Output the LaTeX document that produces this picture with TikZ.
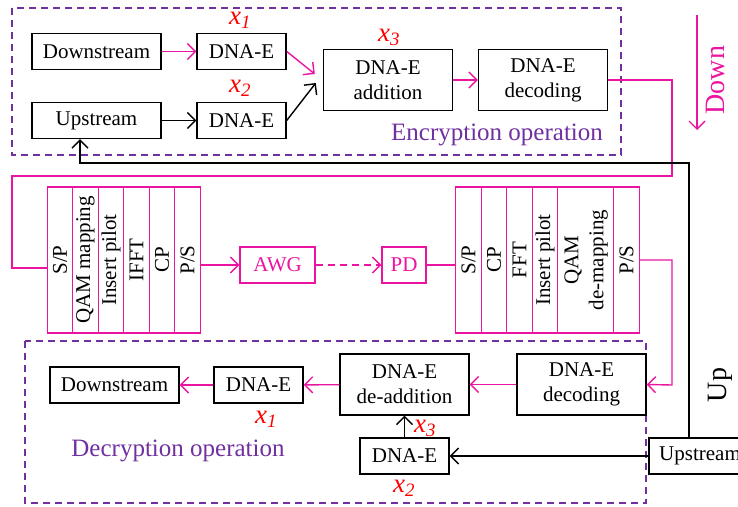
\documentclass[tikz,border=0pt]{standalone}
\usepackage{fontspec}
\setmainfont{Liberation Serif}
\usetikzlibrary{arrows.meta,positioning}

\definecolor{dnapink}{RGB}{234,20,160}
\definecolor{dnapurple}{RGB}{112,48,160}

\begin{document}
\begin{tikzpicture}[
    x=1pt, y=-1pt,
    font=\fontsize{21}{25}\selectfont,
    box/.style={draw, line width=1.4pt, minimum height=36pt,
                align=center, inner sep=2pt},
    smallbox/.style={box, minimum width=89pt},
    widebox/.style={box, minimum width=129pt},
    bigbox/.style={box, minimum width=129pt, minimum height=61pt},
    pbox/.style={box, draw=dnapink, text=dnapink},
    col/.style={draw=dnapink, line width=1.4pt, minimum width=25.5pt,
                minimum height=146pt, inner sep=0pt, outer sep=0pt},
    group/.style={draw=dnapurple, dash pattern=on 7pt off 5pt, line width=1.4pt},
    flow/.style={-{Straight Barb[length=8pt,width=16pt,line width=1.4pt]}, line width=1.4pt},
    pflow/.style={flow, dnapink},
    pline/.style={line width=1.4pt, dnapink},
    xlab/.style={text=red, font=\fontsize{27}{30}\selectfont\itshape, inner sep=0pt},
    oplab/.style={text=dnapurple, font=\fontsize{25}{28}\selectfont},
    dirlab/.style={font=\fontsize{28}{30}\selectfont, rotate=90, inner sep=0pt}
  ]
    \useasboundingbox (0,0) rectangle (738,506);

    % encryption side
    \draw[group] (12,8) rectangle (621,155);
    \node[widebox] (dsT) at (96.5,51.5) {Downstream};
    \node[smallbox] (e1) at (241.5,51.5) {DNA-E};
    \node[widebox] (usT) at (96.5,120.5) {Upstream};
    \node[smallbox] (e2) at (241.5,120.5) {DNA-E};
    \node[bigbox] (add) at (388,80) {DNA-E\\addition};
    \node[bigbox] (dec) at (543,80) {DNA-E\\decoding};
    \node[xlab] (x1t) at (240,20) {x\textsubscript{1}};
    \node[xlab] (x2t) at (240,88) {x\textsubscript{2}};
    \node[xlab] (x3t) at (389,37) {x\textsubscript{3}};
    \node[oplab] (enc) at (497,135) {Encryption operation};

    \draw[pflow] (dsT) -- (e1);
    \draw[flow] (usT) -- (e2);
    \draw[pflow] (e1.east) -- ([xshift=-8pt,yshift=6pt]add.west);
    \draw[flow] (e2.east) -- ([xshift=-7pt,yshift=-3pt]add.west);
    \draw[pflow] (add) -- (dec);

    % direction marks
    \coordinate (dn0) at (697,15);
    \coordinate (dn1) at (697,130);
    \draw[pflow] (dn0) -- (dn1);
    \node[dirlab, text=dnapink] (down) at (715,80) {Down};
    \node[dirlab] (up) at (720,385) {Up};

    % OFDM transmitter
    \node[col] (t1) at (60,260) {\rotatebox{90}{S/P}};
    \node[col, right=0pt of t1] (t2) {\rotatebox{90}{QAM mapping}};
    \node[col, right=0pt of t2] (t3) {\rotatebox{90}{Insert pilot}};
    \node[col, right=0pt of t3] (t4) {\rotatebox{90}{IFFT}};
    \node[col, right=0pt of t4] (t5) {\rotatebox{90}{CP}};
    \node[col, right=0pt of t5] (t6) {\rotatebox{90}{P/S}};

    \node[pbox, minimum width=75pt] (awg) at (277.5,265) {AWG};
    \node[pbox, minimum width=44pt] (pd) at (404,265) {PD};

    % OFDM receiver
    \node[col] (r1) at (468.5,260) {\rotatebox{90}{S/P}};
    \node[col, right=0pt of r1] (r2) {\rotatebox{90}{CP}};
    \node[col, right=0pt of r2] (r3) {\rotatebox{90}{FFT}};
    \node[col, right=0pt of r3] (r4) {\rotatebox{90}{Insert pilot}};
    \node[col, minimum width=56pt, right=0pt of r4] (r5)
      {\rotatebox{90}{\begin{tabular}{@{}c@{}}QAM\\de-mapping\end{tabular}}};
    \node[col, right=0pt of r5] (r6) {\rotatebox{90}{P/S}};

    \coordinate (tx) at (672,176);
    \draw[pline] (dec.east) -| (tx) -| (12,268) -- (t1.west |- 12,268);
    \draw[pflow] (t6.east |- awg) -- (awg);
    \draw[pflow, dash pattern=on 7pt off 5pt] (awg) -- (pd);
    \draw[pline] (pd) -- (r1.west |- pd);

    % decryption side
    \draw[group] (25,341) rectangle (646,503);
    \node[bigbox] (decB) at (581.5,384.5) {DNA-E\\decoding};
    \node[bigbox] (addB) at (404.5,384.5) {DNA-E\\de-addition};
    \node[smallbox] (e3) at (258.5,385) {DNA-E};
    \node[widebox] (dsB) at (114.5,385) {Downstream};
    \node[smallbox] (e4) at (404.5,456) {DNA-E};
    \node[box, minimum width=102pt] (usB) at (700,456) {Upstream};
    \node[xlab] (x1b) at (266,419) {x\textsubscript{1}};
    \node[xlab] (x3b) at (425,428) {x\textsubscript{3}};
    \node[xlab] (x2b) at (404,488) {x\textsubscript{2}};
    \node[oplab] (decr) at (178,451) {Decryption operation};

    \coordinate (rx) at (672,385);
    \draw[pflow] (r6.east) -| (rx) -- (decB.east);
    \draw[pflow] (decB) -- (addB);
    \draw[pflow] (addB) -- (e3);
    \draw[pflow] (e3) -- (dsB);
    \draw[flow] (e4) -- (addB);
    \draw[flow] (usB) -- (e4);

    % feedback to the upstream source
    \coordinate (fb) at (80,163);
    \draw[flow] ([xshift=-11pt]usB.north) |- (fb) -- (usT.south -| fb);
  \end{tikzpicture}
\end{document}
